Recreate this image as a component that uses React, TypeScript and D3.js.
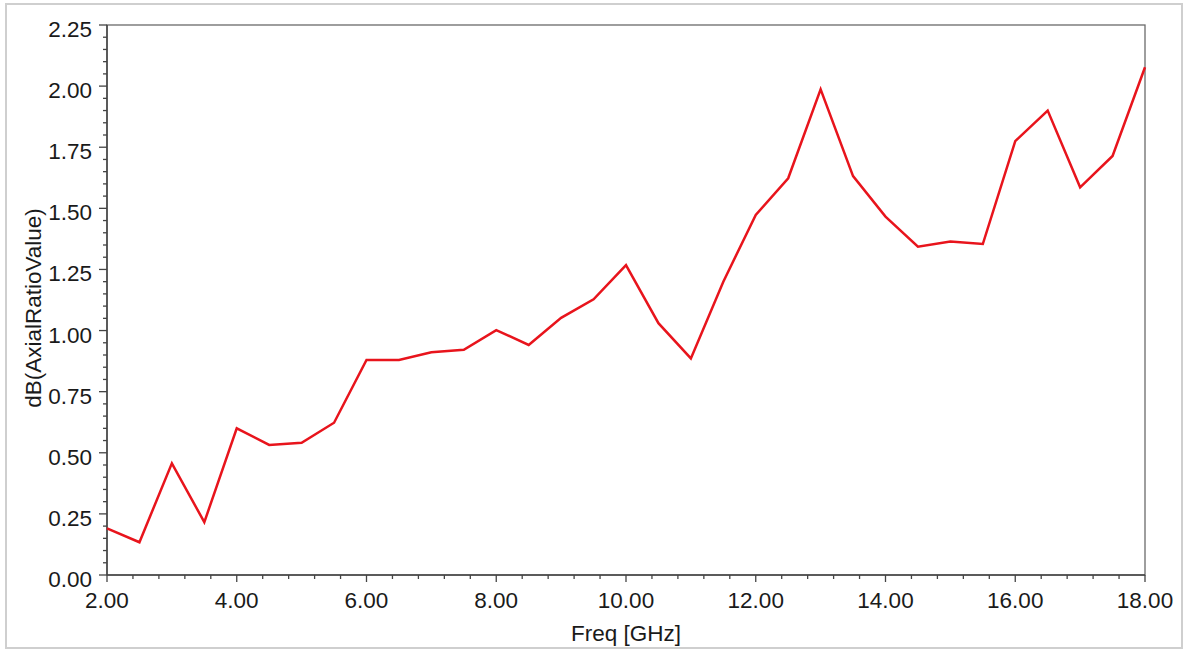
import React, { useEffect, useRef } from "react";
import * as d3 from "d3";

const freqs: number[] = [2, 2.5, 3, 3.5, 4, 4.5, 5, 5.5, 6, 6.5, 7, 7.5, 8, 8.5, 9, 9.5, 10, 10.5, 11, 11.5, 12, 12.5, 13, 13.5, 14, 14.5, 15, 15.5, 16, 16.5, 17, 17.5, 18];
const axialRatio: number[] = [0.191, 0.134, 0.457, 0.216, 0.600, 0.532, 0.541, 0.623, 0.880, 0.880, 0.911, 0.921, 1.002, 0.941, 1.052, 1.128, 1.268, 1.030, 0.886, 1.200, 1.473, 1.623, 1.987, 1.632, 1.466, 1.343, 1.364, 1.354, 1.775, 1.900, 1.586, 1.714, 2.077];
const xTicks: number[] = [2, 4, 6, 8, 10, 12, 14, 16, 18];
const yTicks: number[] = [0, 0.25, 0.5, 0.75, 1.0, 1.25, 1.5, 1.75, 2.0, 2.25];
const xLabel = "Freq [GHz]";
const yLabel = "dB(AxialRatioValue)";

const W = 1184, H = 651;
const M = { left: 107, top: 25, right: 1145, bottom: 575 };
const FONT = "Liberation Sans, Arial, sans-serif";

export default function App() {
  const ref = useRef<SVGSVGElement>(null);
  useEffect(() => {
    const svg = d3.select(ref.current);
    svg.selectAll("*").remove();
    const x = d3.scaleLinear().domain([2, 18]).range([M.left, M.right]);
    const y = d3.scaleLinear().domain([0, 2.25]).range([M.bottom, M.top]);

    svg.append("rect").attr("width", W).attr("height", H).attr("fill", "#fff");
    svg.append("rect").attr("x", 6).attr("y", 4).attr("width", 1176).attr("height", 644)
      .attr("fill", "none").attr("stroke", "#cfcfcf").attr("stroke-width", 2);

    svg.append("rect").attr("x", M.left).attr("y", M.top)
      .attr("width", M.right - M.left).attr("height", M.bottom - M.top)
      .attr("fill", "none").attr("stroke", "#6a6a6a").attr("stroke-width", 1.3);

    const g = svg.append("g");
    const xMinor = d3.range(2, 18.001, 0.4).filter(v => !xTicks.some(t => Math.abs(t - v) < 1e-6));
    g.selectAll(".xm").data(xMinor).enter().append("line")
      .attr("x1", d => x(d)).attr("x2", d => x(d)).attr("y1", M.bottom).attr("y2", M.bottom + 4)
      .attr("stroke", "#444").attr("stroke-width", 1.3);
    g.selectAll(".xM").data(xTicks).enter().append("line")
      .attr("x1", d => x(d)).attr("x2", d => x(d)).attr("y1", M.bottom).attr("y2", M.bottom + 7)
      .attr("stroke", "#444").attr("stroke-width", 1.3);
    const yMinor = d3.range(0, 2.2501, 0.05).filter(v => !yTicks.some(t => Math.abs(t - v) < 1e-6));
    g.selectAll(".ym").data(yMinor).enter().append("line")
      .attr("x1", M.left - 4).attr("x2", M.left).attr("y1", d => y(d)).attr("y2", d => y(d))
      .attr("stroke", "#444").attr("stroke-width", 1.3);
    g.selectAll(".yM").data(yTicks).enter().append("line")
      .attr("x1", M.left - 8).attr("x2", M.left).attr("y1", d => y(d)).attr("y2", d => y(d))
      .attr("stroke", "#444").attr("stroke-width", 1.3);

    svg.append("line").attr("x1", M.left).attr("x2", M.left).attr("y1", M.top).attr("y2", M.bottom)
      .attr("stroke", "#444").attr("stroke-width", 1.5);
    svg.append("line").attr("x1", M.left).attr("x2", M.right).attr("y1", M.bottom).attr("y2", M.bottom)
      .attr("stroke", "#444").attr("stroke-width", 1.5);

    g.selectAll(".xl").data(xTicks).enter().append("text")
      .attr("x", d => x(d)).attr("y", 608).attr("text-anchor", "middle")
      .attr("font-family", FONT).attr("font-size", 22.5).attr("fill", "#1a1a1a")
      .text(d => d.toFixed(2));
    g.selectAll(".yl").data(yTicks).enter().append("text")
      .attr("x", 92).attr("y", d => y(d) + 12).attr("text-anchor", "end")
      .attr("font-family", FONT).attr("font-size", 22.5).attr("fill", "#1a1a1a")
      .text(d => d.toFixed(2));

    svg.append("text").attr("x", (M.left + M.right) / 2).attr("y", 641)
      .attr("text-anchor", "middle").attr("font-family", FONT).attr("font-size", 22.5).attr("fill", "#1a1a1a")
      .text(xLabel);
    svg.append("text").attr("transform", `translate(41,308) rotate(-90)`)
      .attr("text-anchor", "middle").attr("font-family", FONT).attr("font-size", 22.5).attr("fill", "#1a1a1a")
      .text(yLabel);

    const line = d3.line<number>().x((_, i) => x(freqs[i])).y(d => y(d));
    svg.append("path").datum(axialRatio).attr("d", line).attr("fill", "none")
      .attr("stroke", "#e8141c").attr("stroke-width", 2.5).attr("stroke-linejoin", "miter");
  }, []);
  return (
    <div style={{ position: "absolute", left: 0, top: 0 }}>
      <svg ref={ref} width={W} height={H} style={{ display: "block" }} />
    </div>
  );
}
